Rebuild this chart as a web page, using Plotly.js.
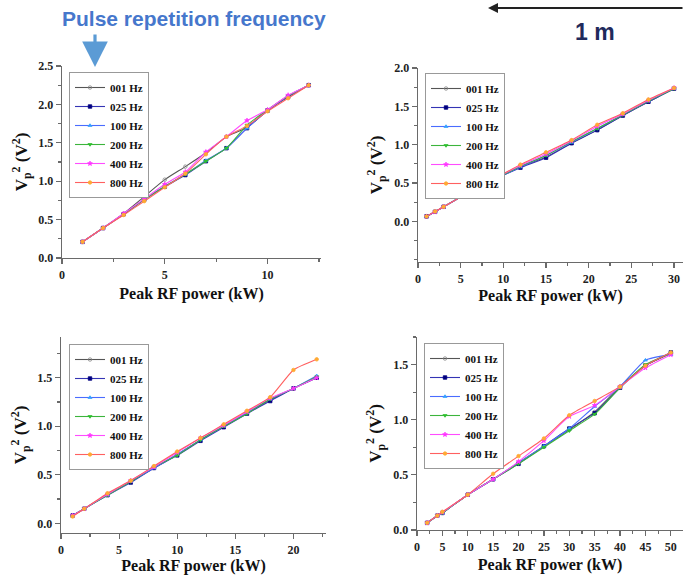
<!DOCTYPE html>
<html>
<head>
<meta charset="utf-8">
<script src="https://cdn.plot.ly/plotly-3.0.1.min.js"></script>
<style>html,body{margin:0;padding:0;background:#fff;}#chart{width:684px;height:575px;}</style>
</head>
<body>
<div id="chart"></div>
<script>
// ---- data ----
const seriesNames = ['001 Hz', '025 Hz', '100 Hz', '200 Hz', '400 Hz', '800 Hz'];

// Panel A (top-left)
const powerA = [1, 2, 3, 4, 5, 6, 7, 8, 9, 10, 11, 12];
const a001 = [0.21, 0.39, 0.58, 0.80, 1.02, 1.19, 1.37, 1.58, 1.70, 1.92, 2.10, 2.25];
const a025 = [0.21, 0.39, 0.57, 0.76, 0.93, 1.08, 1.26, 1.43, 1.69, 1.92, 2.10, 2.25];
const a100 = [0.21, 0.39, 0.57, 0.76, 0.93, 1.09, 1.27, 1.43, 1.69, 1.92, 2.11, 2.25];
const a200 = [0.21, 0.39, 0.57, 0.76, 0.93, 1.09, 1.26, 1.43, 1.73, 1.93, 2.11, 2.25];
const a400 = [0.21, 0.39, 0.58, 0.77, 0.96, 1.12, 1.38, 1.58, 1.79, 1.93, 2.12, 2.25];
const a800 = [0.21, 0.39, 0.56, 0.74, 0.92, 1.10, 1.35, 1.58, 1.72, 1.91, 2.08, 2.25];

// Panel B (top-right)
const powerB = [1, 2, 3, 6, 9, 12, 15, 18, 21, 24, 27, 30];
const b001 = [0.065, 0.125, 0.19, 0.38, 0.55, 0.71, 0.84, 1.02, 1.19, 1.38, 1.56, 1.73];
const b025 = [0.065, 0.125, 0.19, 0.38, 0.55, 0.70, 0.83, 1.02, 1.19, 1.38, 1.56, 1.73];
const b100 = [0.065, 0.125, 0.19, 0.38, 0.55, 0.71, 0.86, 1.03, 1.21, 1.39, 1.57, 1.73];
const b200 = [0.065, 0.125, 0.19, 0.38, 0.55, 0.72, 0.86, 1.04, 1.21, 1.39, 1.57, 1.73];
const b400 = [0.065, 0.125, 0.19, 0.38, 0.56, 0.73, 0.88, 1.05, 1.24, 1.40, 1.58, 1.74];
const b800 = [0.065, 0.13, 0.19, 0.38, 0.56, 0.74, 0.90, 1.06, 1.26, 1.41, 1.59, 1.74];

// Panel C (bottom-left)
const powerC = [1, 2, 4, 6, 8, 10, 12, 14, 16, 18, 20, 22];
const c001 = [0.08, 0.15, 0.30, 0.43, 0.57, 0.71, 0.86, 1.00, 1.14, 1.27, 1.39, 1.50];
const c025 = [0.08, 0.15, 0.29, 0.42, 0.57, 0.70, 0.85, 0.99, 1.13, 1.26, 1.39, 1.50];
const c100 = [0.08, 0.15, 0.29, 0.43, 0.57, 0.71, 0.86, 1.00, 1.14, 1.28, 1.39, 1.52];
const c200 = [0.08, 0.15, 0.29, 0.43, 0.58, 0.70, 0.86, 1.00, 1.13, 1.28, 1.39, 1.51];
const c400 = [0.08, 0.15, 0.30, 0.44, 0.58, 0.73, 0.88, 1.01, 1.15, 1.29, 1.39, 1.50];
const c800 = [0.07, 0.15, 0.31, 0.44, 0.59, 0.74, 0.88, 1.02, 1.16, 1.30, 1.58, 1.69];

// Panel D (bottom-right)
const powerD = [2, 4, 5, 10, 15, 20, 25, 30, 35, 40, 45, 50];
const d001 = [0.065, 0.13, 0.155, 0.32, 0.46, 0.61, 0.76, 0.91, 1.07, 1.30, 1.49, 1.60];
const d025 = [0.065, 0.13, 0.155, 0.32, 0.46, 0.60, 0.76, 0.92, 1.06, 1.29, 1.49, 1.61];
const d100 = [0.065, 0.13, 0.155, 0.32, 0.46, 0.61, 0.76, 0.92, 1.12, 1.30, 1.54, 1.59];
const d200 = [0.065, 0.13, 0.155, 0.32, 0.46, 0.60, 0.75, 0.90, 1.05, 1.29, 1.50, 1.60];
const d400 = [0.065, 0.13, 0.16, 0.32, 0.46, 0.62, 0.81, 1.03, 1.13, 1.30, 1.47, 1.59];
const d800 = [0.065, 0.13, 0.165, 0.32, 0.51, 0.67, 0.83, 1.04, 1.17, 1.30, 1.49, 1.61];

// ---- styling ----
const lineColors = ['#555555', '#3434b4', '#4a6cff', '#3cb43c', '#ff4cff', '#ff6060'];
const markerColors = ['#888888', '#000080', '#33a0ff', '#2fbf2f', '#ff33ff', '#ffaa33'];
const markerSymbols = ['circle-open', 'square', 'triangle-up', 'triangle-down', 'star', 'circle'];
const serif = 'Liberation Serif';

const panels = [
  {x: powerA, ys: [a001, a025, a100, a200, a400, a800]},
  {x: powerB, ys: [b001, b025, b100, b200, b400, b800]},
  {x: powerC, ys: [c001, c025, c100, c200, c400, c800]},
  {x: powerD, ys: [d001, d025, d100, d200, d400, d800]}
];

const traces = [];
panels.forEach((p, pi) => {
  const n = pi + 1;
  p.ys.forEach((y, si) => {
    traces.push({
      type: 'scatter', mode: 'lines+markers',
      x: p.x, y: y, name: seriesNames[si],
      xaxis: n === 1 ? 'x' : 'x' + n,
      yaxis: n === 1 ? 'y' : 'y' + n,
      legend: n === 1 ? 'legend' : 'legend' + n,
      line: {color: lineColors[si], width: 1.1, shape: 'spline', smoothing: 0.5},
      marker: {color: markerColors[si], symbol: markerSymbols[si], size: 3.5,
               line: {color: markerColors[si], width: 0.8}},
      cliponaxis: true
    });
  });
});

const W = 684, H = 575;
const px = v => v / W;
const py = v => 1 - v / H;

// plot boxes in pixels: [left, right, top, bottom]
const boxes = [
  [62, 321, 66, 258],
  [418, 683, 68, 262],
  [61, 326, 337, 533],
  [417, 683, 337, 530]
];
const xRanges = [[0, 12.6], [0, 31.05], [0, 22.8], [0, 52.4]];
const yRanges = [[0, 2.5], [-0.53, 2.0], [-0.1, 1.92], [0, 1.75]];
const yTickVals = [
  [0, 0.5, 1.0, 1.5, 2.0, 2.5],
  [0, 0.5, 1.0, 1.5, 2.0],
  [0, 0.5, 1.0, 1.5],
  [0, 0.5, 1.0, 1.5]
];
const xStandoff = [7, 5, 7, 6];
const yStandoff = [6, 7, 6, 7];
const legendPos = [[69, 72], [425, 73], [69, 344], [424, 343]];

const tickFont = {family: serif, size: 12, color: '#222', weight: 'bold'};
const xTitleFont = {family: serif, size: 16, color: '#111', weight: 'bold'};
const yTitleFont = {family: serif, size: 17, color: '#111', weight: 'bold'};
const axColor = '#6a6a6a';

const layout = {
  width: W, height: H,
  margin: {l: 0, r: 0, t: 0, b: 0},
  paper_bgcolor: '#fff', plot_bgcolor: '#fff',
  showlegend: true,
  annotations: [],
  font: {family: serif}
};

boxes.forEach((b, i) => {
  const n = i + 1;
  const xk = n === 1 ? 'xaxis' : 'xaxis' + n;
  const yk = n === 1 ? 'yaxis' : 'yaxis' + n;
  const xid = n === 1 ? 'x' : 'x' + n;
  const yid = n === 1 ? 'y' : 'y' + n;
  layout[xk] = {
    domain: [px(b[0]), px(b[1])], anchor: yid, range: xRanges[i],
    showgrid: false, zeroline: false, showline: true, linecolor: axColor, linewidth: 1.3,
    ticks: 'outside', ticklen: 5, tickwidth: 1.2, tickcolor: axColor,
    dtick: 5, tick0: 0,
    minor: {dtick: 2.5, ticks: 'outside', ticklen: 3, tickcolor: axColor, showgrid: false},
    tickfont: Object.assign({}, tickFont),
    title: {text: 'Peak RF power (kW)', font: Object.assign({}, xTitleFont), standoff: xStandoff[i]},
    automargin: false
  };
  layout[yk] = {
    domain: [py(b[3]), py(b[2])], anchor: xid, range: yRanges[i],
    showgrid: false, zeroline: false, showline: true, linecolor: axColor, linewidth: 1.3,
    ticks: 'outside', ticklen: 5, tickwidth: 1.2, tickcolor: axColor,
    tickmode: 'array', tickvals: yTickVals[i], tickformat: '.1f',
    minor: {tickmode: 'linear', tick0: 0, dtick: 0.25, ticks: 'outside', ticklen: 3, tickcolor: axColor, showgrid: false},
    tickfont: Object.assign({}, tickFont),
    title: {text: 'V<sub>p</sub><sup>2</sup> (V<sup>2</sup>)', font: Object.assign({}, yTitleFont), standoff: yStandoff[i]},
    automargin: false
  };
  // mirrored axes with inward ticks (top and right)
  const tk = 'xaxis' + (n + 4);
  layout[tk] = {
    overlaying: xid, side: 'top', anchor: yid, range: xRanges[i],
    showgrid: false, zeroline: false, showline: true, linecolor: axColor, linewidth: 1.3,
    ticks: 'inside', ticklen: 5, tickwidth: 1.2, tickcolor: axColor,
    dtick: 5, tick0: 0, showticklabels: false,
    minor: {dtick: 2.5, ticks: 'inside', ticklen: 3, tickcolor: axColor, showgrid: false}
  };
  if (n !== 1) {
    const rk = 'yaxis' + (n + 4);
    layout[rk] = {
      overlaying: yid, side: 'right', anchor: xid, range: yRanges[i],
      showgrid: false, zeroline: false, showline: true, linecolor: axColor, linewidth: 1.3,
      ticks: 'inside', ticklen: 5, tickwidth: 1.2, tickcolor: axColor,
      dtick: 0.5, tick0: 0, showticklabels: false,
      minor: {dtick: 0.25, ticks: 'inside', ticklen: 3, tickcolor: axColor, showgrid: false}
    };
  }
  const lk = n === 1 ? 'legend' : 'legend' + n;
  layout[lk] = {
    x: px(legendPos[i][0]), y: py(legendPos[i][1]), xanchor: 'left', yanchor: 'top',
    bgcolor: '#fff', bordercolor: '#999', borderwidth: 1,
    font: {family: serif, size: 11, color: '#111', weight: 'bold'},
    itemwidth: 30, tracegroupgap: 0
  };
});

// header and decorations
layout.annotations.push({
  xref: 'paper', yref: 'paper', x: px(194), y: py(19), xanchor: 'center', yanchor: 'middle',
  showarrow: false, text: 'Pulse repetition frequency',
  font: {family: 'Liberation Sans', size: 21, color: '#4677cc', weight: 'bold'}
});
layout.annotations.push({
  xref: 'paper', yref: 'paper', x: px(95), y: py(67), ax: 0, ay: -34,
  showarrow: true, text: '', arrowhead: 2, arrowsize: 1.6, arrowwidth: 3.2, arrowcolor: '#5b9bd5'
});
layout.annotations.push({
  xref: 'paper', yref: 'paper', x: px(488), y: py(8), ax: 200, ay: 0,
  showarrow: true, text: '', arrowhead: 2, arrowsize: 1, arrowwidth: 2, arrowcolor: '#222'
});
layout.annotations.push({
  xref: 'paper', yref: 'paper', x: px(595), y: py(32), xanchor: 'center', yanchor: 'middle',
  showarrow: false, text: '1 m',
  font: {family: 'Liberation Sans', size: 23, color: '#1f2a5c', weight: 'bold'}
});

Plotly.newPlot('chart', traces, layout, {displayModeBar: false, staticPlot: true});
</script>
</body>
</html>
